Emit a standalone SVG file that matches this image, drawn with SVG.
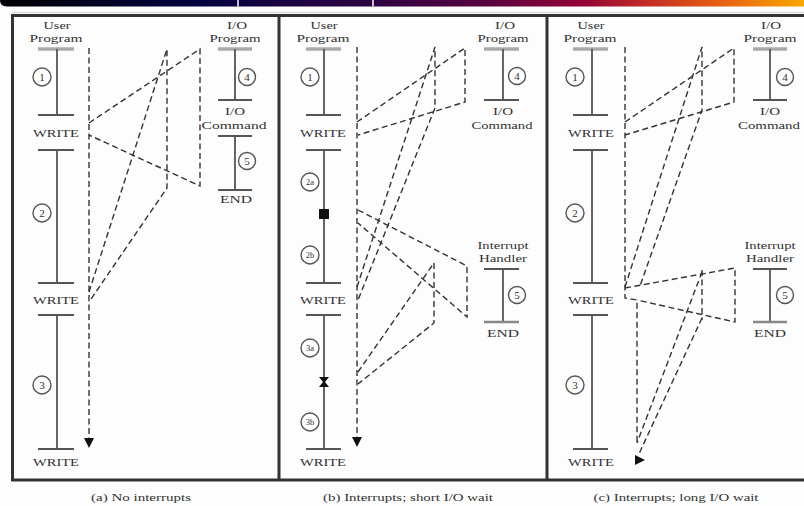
<svg xmlns="http://www.w3.org/2000/svg" width="804" height="506" viewBox="0 0 804 506">
<defs>
<linearGradient id="hdr" x1="0" y1="0" x2="804" y2="0" gradientUnits="userSpaceOnUse">
<stop offset="0" stop-color="#000000"/>
<stop offset="0.12" stop-color="#000022"/>
<stop offset="0.25" stop-color="#000040"/>
<stop offset="0.32" stop-color="#140040"/>
<stop offset="0.46" stop-color="#2c0042"/>
<stop offset="0.6" stop-color="#560040"/>
<stop offset="0.72" stop-color="#900038"/>
<stop offset="0.8" stop-color="#c02a28"/>
<stop offset="0.9" stop-color="#e86212"/>
<stop offset="1" stop-color="#f8a800"/>
</linearGradient>
</defs>
<style>
.t{font-family:"Liberation Serif","Times New Roman",serif;font-size:11px;fill:#333;text-anchor:middle}
.cap{font-family:"Liberation Serif","Times New Roman",serif;font-size:11px;fill:#333;text-anchor:middle}
.n{font-family:"Liberation Serif","Times New Roman",serif;font-size:11px;fill:#333;text-anchor:middle}
.ns{font-family:"Liberation Serif","Times New Roman",serif;font-size:8.5px;fill:#333;text-anchor:middle}
.tl{stroke:#555;stroke-width:1.8;fill:none}
.bar{stroke:#555;stroke-width:2;fill:none}
.pbar{stroke:#aaa;stroke-width:3.5;fill:none}
.c{stroke:#555;stroke-width:1.4;fill:none}
.d{stroke:#333;stroke-width:1.4;stroke-dasharray:6 3.5;fill:none}
.frame{stroke:#333;stroke-width:3;fill:none}
.ah{fill:#111}
</style>
<rect width="804" height="506" fill="#fdfdfd"/>
<g id="header">
<path d="M0,0 H804 V6.5 H7 Q0,6.5 0,0 Z" fill="url(#hdr)"/>
<line x1="238" y1="0" x2="238" y2="6.5" stroke="#fff" stroke-width="1.5"/>
<line x1="373" y1="0" x2="373" y2="6.5" stroke="#fff" stroke-width="1.5"/>
<line x1="12" y1="12.5" x2="804" y2="12.5" stroke="#d8d8d8" stroke-width="1.5"/>
</g>
<g id="frame">
<path class="frame" d="M804,15.5 H12.5 V480 H804"/>
<line class="frame" x1="279" y1="15" x2="279" y2="480"/>
<line class="frame" x1="547" y1="15" x2="547" y2="480"/>
</g>

<!-- Panel a -->
<g id="a-user">
<text class="t" x="57" y="29" textLength="27" lengthAdjust="spacingAndGlyphs">User</text>
<text class="t" x="56" y="42" textLength="53" lengthAdjust="spacingAndGlyphs">Program</text>
<line class="pbar" x1="38" y1="49" x2="74" y2="49"/>
<path class="tl" d="M57,49 V115 M57,150 V283 M57,315 V449"/>
<path class="bar" d="M38,115 H74 M38,150 H74 M38,283 H74 M38,315 H74 M38,449 H74"/>
<text class="t" x="56" y="137" textLength="46" lengthAdjust="spacingAndGlyphs">WRITE</text>
<text class="t" x="56" y="304" textLength="46" lengthAdjust="spacingAndGlyphs">WRITE</text>
<text class="t" x="56" y="466" textLength="46" lengthAdjust="spacingAndGlyphs">WRITE</text>
<circle class="c" cx="42" cy="77" r="9"/><text class="n" x="42" y="81">1</text>
<circle class="c" cx="42" cy="213" r="9"/><text class="n" x="42" y="217">2</text>
<circle class="c" cx="42" cy="385" r="9"/><text class="n" x="42" y="389">3</text>
</g>
<g id="a-io">
<text class="t" x="237" y="29" textLength="20" lengthAdjust="spacingAndGlyphs">I/O</text>
<text class="t" x="235" y="42" textLength="51" lengthAdjust="spacingAndGlyphs">Program</text>
<line class="pbar" x1="218" y1="49" x2="252" y2="49"/>
<path class="tl" d="M235,49 V100 M235,136 V190"/>
<path class="bar" d="M218,100 H252 M218,136 H252 M218,190 H252"/>
<text class="t" x="235" y="115" textLength="20" lengthAdjust="spacingAndGlyphs">I/O</text>
<text class="t" x="234" y="129" textLength="65" lengthAdjust="spacingAndGlyphs">Command</text>
<text class="t" x="236" y="203" textLength="32" lengthAdjust="spacingAndGlyphs">END</text>
<circle class="c" cx="247" cy="77" r="8.5"/><text class="n" x="247" y="81">4</text>
<circle class="c" cx="247" cy="161" r="8.5"/><text class="n" x="247" y="165">5</text>
</g>
<g id="a-connectors">
<path class="d" d="M89,48 V438"/>
<polygon class="ah" points="84,438 94,438 89,448"/>
<path class="d" d="M89,123 L200,49 V186 L89,135"/>
<path class="d" d="M89,292 L167,49 V188 L89,302"/>
</g>
<text class="cap" x="141" y="501" textLength="100" lengthAdjust="spacingAndGlyphs">(a) No interrupts</text>

<!-- Panel b -->
<g id="b-user">
<text class="t" x="324" y="29" textLength="27" lengthAdjust="spacingAndGlyphs">User</text>
<text class="t" x="323" y="42" textLength="53" lengthAdjust="spacingAndGlyphs">Program</text>
<line class="pbar" x1="306" y1="49" x2="341" y2="49"/>
<path class="tl" d="M324,49 V115 M324,150 V283 M324,315 V449"/>
<path class="bar" d="M306,115 H341 M306,150 H341 M306,283 H341 M306,315 H341 M306,449 H341"/>
<text class="t" x="323" y="137" textLength="46" lengthAdjust="spacingAndGlyphs">WRITE</text>
<text class="t" x="323" y="304" textLength="46" lengthAdjust="spacingAndGlyphs">WRITE</text>
<text class="t" x="323" y="466" textLength="46" lengthAdjust="spacingAndGlyphs">WRITE</text>
<circle class="c" cx="310" cy="77" r="9"/><text class="n" x="310" y="81">1</text>
<circle class="c" cx="310" cy="182" r="9"/><text class="ns" x="310" y="185">2a</text>
<circle class="c" cx="310" cy="255" r="9"/><text class="ns" x="310" y="258">2b</text>
<circle class="c" cx="310" cy="348" r="9"/><text class="ns" x="310" y="351">3a</text>
<circle class="c" cx="310" cy="422" r="9"/><text class="ns" x="310" y="425">3b</text>
<rect x="319" y="209" width="10" height="10" fill="#111"/>
<polygon points="319,377 329,377 325,382 329,387 319,387 323,382" fill="#111"/>
</g>
<g id="b-io">
<text class="t" x="505" y="29" textLength="20" lengthAdjust="spacingAndGlyphs">I/O</text>
<text class="t" x="503" y="42" textLength="51" lengthAdjust="spacingAndGlyphs">Program</text>
<line class="pbar" x1="484" y1="49" x2="519" y2="49"/>
<path class="tl" d="M503,49 V100"/>
<path class="bar" d="M484,100 H519"/>
<text class="t" x="503" y="115" textLength="20" lengthAdjust="spacingAndGlyphs">I/O</text>
<text class="t" x="502" y="129" textLength="61" lengthAdjust="spacingAndGlyphs">Command</text>
<circle class="c" cx="517" cy="76" r="8.5"/><text class="n" x="517" y="80">4</text>
</g>
<g id="b-handler">
<text class="t" x="503" y="249" textLength="51" lengthAdjust="spacingAndGlyphs">Interrupt</text>
<text class="t" x="503" y="262" textLength="48" lengthAdjust="spacingAndGlyphs">Handler</text>
<path class="bar" d="M484,269 H519"/>
<path class="tl" d="M503,269 V322"/>
<line x1="484" y1="322" x2="519" y2="322" stroke="#888" stroke-width="2.5"/>
<text class="t" x="503" y="337" textLength="32" lengthAdjust="spacingAndGlyphs">END</text>
<circle class="c" cx="517" cy="295" r="8.5"/><text class="n" x="517" y="299">5</text>
</g>
<g id="b-connectors">
<path class="d" d="M357,47 V437"/>
<polygon class="ah" points="352,437 362,437 357,447"/>
<path class="d" d="M357,122 L465,48 V102 L358,135"/>
<path class="d" d="M357,287 L435,47 V108 L358,300"/>
<path class="d" d="M358,210 L467,266 V317 L358,223"/>
<path class="d" d="M358,372 L434,263 V323 L358,384"/>
</g>
<text class="cap" x="408" y="501" textLength="170" lengthAdjust="spacingAndGlyphs">(b) Interrupts; short I/O wait</text>

<!-- Panel c -->
<g id="c-user">
<text class="t" x="591" y="29" textLength="27" lengthAdjust="spacingAndGlyphs">User</text>
<text class="t" x="590" y="42" textLength="53" lengthAdjust="spacingAndGlyphs">Program</text>
<line class="pbar" x1="573" y1="49" x2="608" y2="49"/>
<path class="tl" d="M592,49 V115 M592,150 V283 M592,315 V449"/>
<path class="bar" d="M573,115 H608 M573,150 H608 M573,283 H608 M573,315 H608 M573,449 H608"/>
<text class="t" x="591" y="137" textLength="46" lengthAdjust="spacingAndGlyphs">WRITE</text>
<text class="t" x="591" y="304" textLength="46" lengthAdjust="spacingAndGlyphs">WRITE</text>
<text class="t" x="591" y="466" textLength="46" lengthAdjust="spacingAndGlyphs">WRITE</text>
<circle class="c" cx="575" cy="77" r="9"/><text class="n" x="575" y="81">1</text>
<circle class="c" cx="575" cy="213" r="9"/><text class="n" x="575" y="217">2</text>
<circle class="c" cx="575" cy="385" r="9"/><text class="n" x="575" y="389">3</text>
</g>
<g id="c-io">
<text class="t" x="771" y="29" textLength="20" lengthAdjust="spacingAndGlyphs">I/O</text>
<text class="t" x="770" y="42" textLength="53" lengthAdjust="spacingAndGlyphs">Program</text>
<line class="pbar" x1="753" y1="49" x2="787" y2="49"/>
<path class="tl" d="M770,49 V100"/>
<path class="bar" d="M753,100 H787"/>
<text class="t" x="770" y="115" textLength="20" lengthAdjust="spacingAndGlyphs">I/O</text>
<text class="t" x="769" y="129" textLength="62" lengthAdjust="spacingAndGlyphs">Command</text>
<circle class="c" cx="785" cy="77" r="8.5"/><text class="n" x="785" y="81">4</text>
</g>
<g id="c-handler">
<text class="t" x="770" y="249" textLength="51" lengthAdjust="spacingAndGlyphs">Interrupt</text>
<text class="t" x="770" y="262" textLength="48" lengthAdjust="spacingAndGlyphs">Handler</text>
<path class="bar" d="M753,269 H787"/>
<path class="tl" d="M770,269 V322"/>
<line x1="753" y1="322" x2="787" y2="322" stroke="#888" stroke-width="2.5"/>
<text class="t" x="770" y="337" textLength="32" lengthAdjust="spacingAndGlyphs">END</text>
<circle class="c" cx="785" cy="295" r="8.5"/><text class="n" x="785" y="299">5</text>
</g>
<g id="c-connectors">
<path class="d" d="M625,47 V298 L637,300 V443"/>
<path class="d" d="M625,122 L734,48 V102 L625,135"/>
<path class="d" d="M625,287 L702,47 V110 L640,286"/>
<path class="d" d="M625,288 L735,268 V322 L637,300"/>
<path class="d" d="M702,270 V320"/>
<path class="d" d="M702,272 L637,443"/>
<path class="d" d="M702,318 L638,456"/>
<polygon class="ah" points="635,455 635,465 645,460"/>
</g>
<text class="cap" x="676" y="501" textLength="165" lengthAdjust="spacingAndGlyphs">(c) Interrupts; long I/O wait</text>
</svg>
